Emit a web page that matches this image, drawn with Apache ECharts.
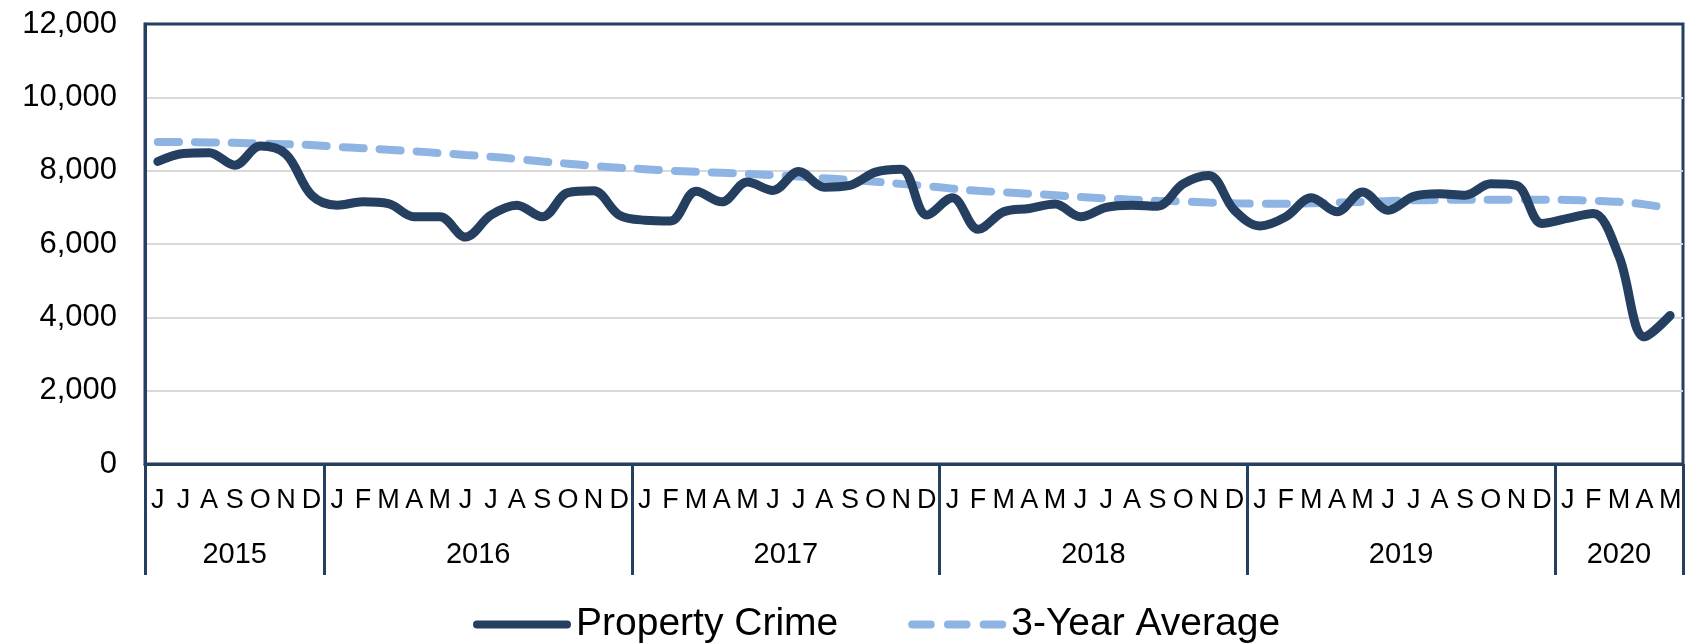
<!DOCTYPE html>
<html>
<head>
<meta charset="utf-8">
<script src="https://cdn.jsdelivr.net/npm/echarts@6/dist/echarts.min.js"></script>
<style>
  html, body { margin: 0; padding: 0; background: #fff; }
  #chart { width: 1686px; height: 643px; }
</style>
</head>
<body>
<div id="chart"></div>
<script>
// months Jun 2015 - May 2020
var monthLabels = [
  'J','J','A','S','O','N','D',
  'J','F','M','A','M','J','J','A','S','O','N','D',
  'J','F','M','A','M','J','J','A','S','O','N','D',
  'J','F','M','A','M','J','J','A','S','O','N','D',
  'J','F','M','A','M','J','J','A','S','O','N','D',
  'J','F','M','A','M'
];
var yearLabels = ['2015', '2016', '2017', '2018', '2019', '2020'];
var monthsPerYear = [7, 12, 12, 12, 12, 5];

var propertyCrime = [
  8250, 8470, 8490, 8150, 8670, 8450, 7330,
  7060, 7150, 7100, 6740, 6740, 6190, 6790, 7060, 6740, 7400, 7450, 6790,
  6650, 6630, 7440, 7150, 7690, 7460, 7980, 7550, 7600, 7960, 8040, 6790,
  7260, 6400, 6880, 6970, 7090, 6740, 7000, 7060, 7030, 7640, 7870, 6920,
  6490, 6740, 7260, 6880, 7420, 6920, 7300, 7370, 7330, 7640, 7600, 6560,
  6700, 6830, 5670, 3470, 4050
];
var threeYearAvg = [
  8780, 8780, 8770, 8760, 8740, 8720, 8700,
  8650, 8610, 8570, 8530, 8480, 8430, 8380, 8320, 8250, 8190, 8130, 8080,
  8040, 8000, 7970, 7940, 7910, 7880, 7840, 7790, 7750, 7700, 7640, 7580,
  7510, 7450, 7410, 7370, 7330, 7280, 7240, 7210, 7180, 7160, 7130, 7110,
  7100, 7100, 7110, 7130, 7150, 7170, 7190, 7200, 7210, 7210, 7210, 7210,
  7200, 7180, 7150, 7080, 6970
];

var navy = '#243F60';
var lightBlue = '#8DB4E2';
var font = 'Liberation Sans, Arial, sans-serif';

// year boundaries and mid points, in month slots
var yearEdges = [0];
var yearMids = [];
monthsPerYear.forEach(function (n, i) {
  yearMids.push(yearEdges[i] + n / 2);
  yearEdges.push(yearEdges[i] + n);
});

// legend icons: solid bar and three rounded dashes
var solidIcon = 'path://M4,0h92a4,4 0 0 1 0,8h-92a4,4 0 0 1 0,-8z';
var dashIcon = 'path://M4,0h18a4,4 0 0 1 0,8h-18a4,4 0 0 1 0,-8z' +
  'M39,0h18a4,4 0 0 1 0,8h-18a4,4 0 0 1 0,-8z' +
  'M74,0h18a4,4 0 0 1 0,8h-18a4,4 0 0 1 0,-8z';

var chart = echarts.init(document.getElementById('chart'));
chart.setOption({
  animation: false,
  grid: {
    left: 145, right: 3, top: 24, bottom: 179,
    show: true, borderColor: navy, borderWidth: 3
  },
  legend: {
    top: 600,
    left: 468,
    itemWidth: 98,
    itemHeight: 9,
    itemGap: 70,
    textStyle: { fontFamily: font, fontSize: 39, color: '#000' },
    data: [
      { name: 'Property Crime', icon: solidIcon },
      { name: '3-Year Average', icon: dashIcon }
    ]
  },
  xAxis: [
    {
      type: 'category',
      data: monthLabels,
      boundaryGap: true,
      axisLine: { lineStyle: { color: navy, width: 3 } },
      axisTick: { show: false },
      axisLabel: { interval: 0, fontFamily: font, fontSize: 27, color: '#000', margin: 23 }
    },
    {
      type: 'value',
      min: 0,
      max: yearEdges[yearEdges.length - 1],
      position: 'bottom',
      axisLine: { show: false },
      splitLine: { show: false },
      axisTick: {
        show: true,
        customValues: yearEdges,
        length: 111,
        lineStyle: { color: navy, width: 3 }
      },
      axisLabel: {
        customValues: yearMids,
        formatter: function (v) { return yearLabels[yearMids.indexOf(v)]; },
        fontFamily: font, fontSize: 29, color: '#000', margin: 76
      }
    }
  ],
  yAxis: {
    type: 'value',
    min: 0,
    max: 12000,
    interval: 2000,
    axisLine: { show: true, lineStyle: { color: navy, width: 3 } },
    axisTick: { show: false },
    splitLine: {
      lineStyle: {
        color: ['#D9D9D9', '#D9D9D9', '#D9D9D9', '#D9D9D9', '#D9D9D9', '#D9D9D9', navy],
        width: 2
      }
    },
    axisLabel: {
      formatter: function (v) { return v.toLocaleString('en-US'); },
      fontFamily: font, fontSize: 31, color: '#000', margin: 28
    }
  },
  series: [
    {
      name: 'Property Crime',
      type: 'line',
      data: propertyCrime,
      smooth: 0.35,
      symbol: 'none',
      z: 3,
      lineStyle: { color: navy, width: 9, cap: 'round', join: 'round' },
      itemStyle: { color: navy }
    },
    {
      name: '3-Year Average',
      type: 'line',
      data: threeYearAvg,
      smooth: 0.35,
      symbol: 'none',
      z: 2,
      lineStyle: { color: lightBlue, width: 8, type: [21, 16], cap: 'round' },
      itemStyle: { color: lightBlue }
    }
  ]
});
</script>
</body>
</html>
